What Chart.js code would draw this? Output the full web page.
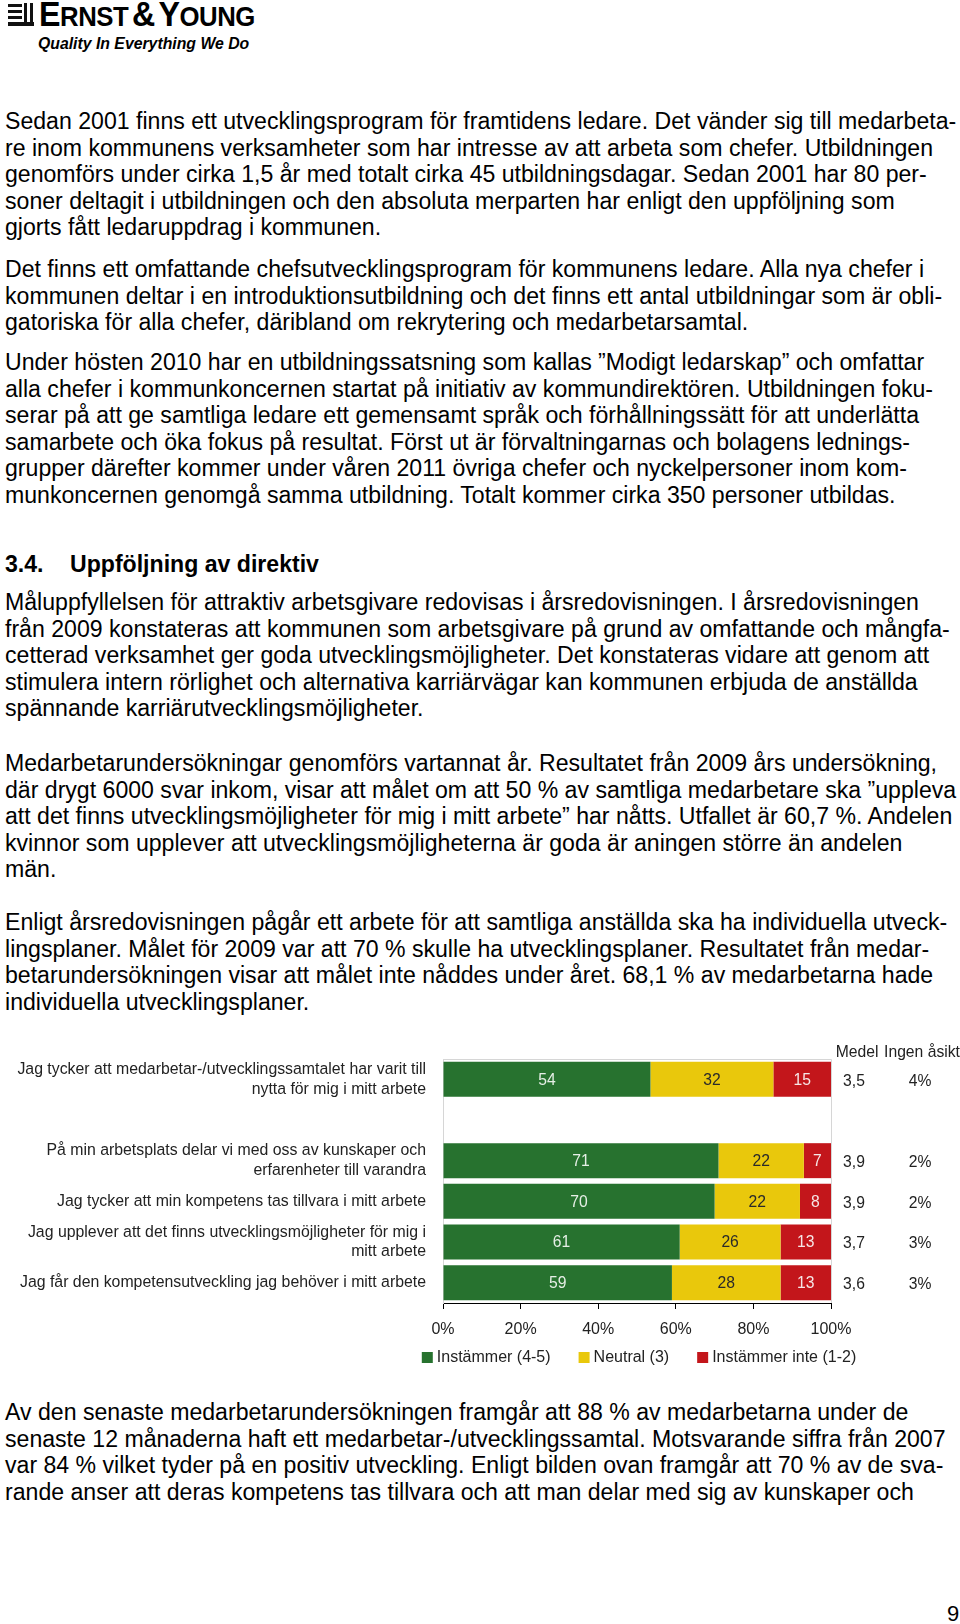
<!DOCTYPE html>
<html lang="sv">
<head>
<meta charset="utf-8">
<script src="https://cdn.jsdelivr.net/npm/chart.js@4.4.1/dist/chart.umd.min.js"></script>
<style>
    html, body { margin: 0; padding: 0; background: #fff; }
    body { width: 960px; height: 1624px; position: relative; overflow: hidden;
           font-family: "Liberation Sans", Arial, sans-serif; color: #000; }
    .p { position: absolute; left: 5px; font-size: 23.1px; line-height: 26.6px; white-space: nowrap; }
    .logo-icon div { position: absolute; background: #111; }
    #brand { position: absolute; left: 39px; top: -4px; font-weight: bold; white-space: nowrap;
             letter-spacing: -0.5px; transform: scaleX(0.92); transform-origin: 0 0; line-height: 36px; }
    #brand .big { font-size: 35px; }
    #brand .sm { font-size: 28px; }
    #tagline { position: absolute; left: 38px; top: 35px; font-weight: bold; font-style: italic; font-size: 15.8px; }
    #chartBox { position: absolute; left: 0; top: 1020px; width: 960px; height: 360px; }
    #pageNo { position: absolute; left: 947px; top: 1601px; font-size: 22px; }
</style>
</head>
<body>
<div class="logo-icon">
    <div style="left:8px;top:4px;width:14px;height:3px"></div>
    <div style="left:8px;top:10px;width:14px;height:3px"></div>
    <div style="left:8px;top:16px;width:14px;height:3px"></div>
    <div style="left:8px;top:22px;width:26px;height:4px"></div>
    <div style="left:24px;top:3px;width:3px;height:23px"></div>
    <div style="left:30px;top:3px;width:3px;height:23px"></div>
</div>
<div id="brand"><span class="big">E</span><span class="sm">RNST</span> <span class="big">&amp;</span> <span class="big">Y</span><span class="sm">OUNG</span></div>
<div id="tagline">Quality In Everything We Do</div>

<div class="p" style="top:108px">Sedan 2001 finns ett utvecklingsprogram för framtidens ledare. Det vänder sig till medarbeta-<br>re inom kommunens verksamheter som har intresse av att arbeta som chefer. Utbildningen<br>genomförs under cirka 1,5 år med totalt cirka 45 utbildningsdagar. Sedan 2001 har 80 per-<br>soner deltagit i utbildningen och den absoluta merparten har enligt den uppföljning som<br>gjorts fått ledaruppdrag i kommunen.</div>
<div class="p" style="top:256px">Det finns ett omfattande chefsutvecklingsprogram för kommunens ledare. Alla nya chefer i<br>kommunen deltar i en introduktionsutbildning och det finns ett antal utbildningar som är obli-<br>gatoriska för alla chefer, däribland om rekrytering och medarbetarsamtal.</div>
<div class="p" style="top:349px">Under hösten 2010 har en utbildningssatsning som kallas ”Modigt ledarskap” och omfattar<br>alla chefer i kommunkoncernen startat på initiativ av kommundirektören. Utbildningen foku-<br>serar på att ge samtliga ledare ett gemensamt språk och förhållningssätt för att underlätta<br>samarbete och öka fokus på resultat. Först ut är förvaltningarnas och bolagens lednings-<br>grupper därefter kommer under våren 2011 övriga chefer och nyckelpersoner inom kom-<br>munkoncernen genomgå samma utbildning. Totalt kommer cirka 350 personer utbildas.</div>
<div class="p" style="top:551px;font-weight:bold">3.4.</div>
<div class="p" style="top:551px;left:70px;font-weight:bold">Uppföljning av direktiv</div>
<div class="p" style="top:589px">Måluppfyllelsen för attraktiv arbetsgivare redovisas i årsredovisningen. I årsredovisningen<br>från 2009 konstateras att kommunen som arbetsgivare på grund av omfattande och mångfa-<br>cetterad verksamhet ger goda utvecklingsmöjligheter. Det konstateras vidare att genom att<br>stimulera intern rörlighet och alternativa karriärvägar kan kommunen erbjuda de anställda<br>spännande karriärutvecklingsmöjligheter.</div>
<div class="p" style="top:750px">Medarbetarundersökningar genomförs vartannat år. Resultatet från 2009 års undersökning,<br>där drygt 6000 svar inkom, visar att målet om att 50 % av samtliga medarbetare ska ”uppleva<br>att det finns utvecklingsmöjligheter för mig i mitt arbete” har nåtts. Utfallet är 60,7 %. Andelen<br>kvinnor som upplever att utvecklingsmöjligheterna är goda är aningen större än andelen<br>män.</div>
<div class="p" style="top:909px">Enligt årsredovisningen pågår ett arbete för att samtliga anställda ska ha individuella utveck-<br>lingsplaner. Målet för 2009 var att 70 % skulle ha utvecklingsplaner. Resultatet från medar-<br>betarundersökningen visar att målet inte nåddes under året. 68,1 % av medarbetarna hade<br>individuella utvecklingsplaner.</div>

<div id="chartBox"><canvas id="surveyChart"></canvas></div>

<div class="p" style="top:1399px">Av den senaste medarbetarundersökningen framgår att 88 % av medarbetarna under de<br>senaste 12 månaderna haft ett medarbetar-/utvecklingssamtal. Motsvarande siffra från 2007<br>var 84 % vilket tyder på en positiv utveckling. Enligt bilden ovan framgår att 70 % av de sva-<br>rande anser att deras kompetens tas tillvara och att man delar med sig av kunskaper och</div>
<div id="pageNo">9</div>

<script>
// survey questions (empty slot between first and the rest)
const questions = [
    ['Jag tycker att medarbetar-/utvecklingssamtalet har varit till', 'nytta för mig i mitt arbete'],
    '',
    ['På min arbetsplats delar vi med oss av kunskaper och', 'erfarenheter till varandra'],
    'Jag tycker att min kompetens tas tillvara i mitt arbete',
    ['Jag upplever att det finns utvecklingsmöjligheter för mig i', 'mitt arbete'],
    'Jag får den kompetensutveckling jag behöver i mitt arbete'
];
const agree    = [54, null, 71, 70, 61, 59];
const neutral  = [32, null, 22, 22, 26, 28];
const disagree = [15, null, 7, 8, 13, 13];
const medel     = ['3,5', '', '3,9', '3,9', '3,7', '3,6'];
const noOpinion = ['4%', '', '2%', '2%', '3%', '3%'];
const seriesNames = ['Instämmer (4-5)', 'Neutral (3)', 'Instämmer inte (1-2)'];
const seriesColors = ['#27722f', '#e9c80c', '#c3161b'];
const labelColors = ['#e6efe6', '#2a2a2a', '#f6e6e6'];
const xTicks = [0, 20, 40, 60, 80, 100];

const FONT = "'Liberation Sans', Arial, sans-serif";
const raw = [agree, neutral, disagree];

// 100% stacked: share of each row total
function share(arr) {
    return arr.map((v, i) => v == null ? null : v * 100 / (agree[i] + neutral[i] + disagree[i]));
}

const extras = {
    id: 'extras',
    beforeDatasetsDraw(chart) {
        const { ctx, chartArea: a } = chart;
        ctx.save();
        ctx.strokeStyle = '#d6d6d6';
        ctx.lineWidth = 1;
        ctx.beginPath();
        ctx.moveTo(a.left, a.top + 0.5);
        ctx.lineTo(a.right + 0.5, a.top + 0.5);
        ctx.lineTo(a.right + 0.5, a.bottom);
        ctx.stroke();
        ctx.restore();
    },
    afterDatasetsDraw(chart) {
        const { ctx, chartArea: a } = chart;
        const y = chart.scales.y;
        ctx.save();
        ctx.font = '15.7px ' + FONT;
        ctx.textAlign = 'center';
        ctx.textBaseline = 'middle';
        raw.forEach((arr, d) => {
            ctx.fillStyle = labelColors[d];
            chart.getDatasetMeta(d).data.forEach((bar, i) => {
                if (arr[i] == null) return;
                ctx.fillText(arr[i], (bar.x + bar.base) / 2, bar.y + 1);
            });
        });
        ctx.fillStyle = '#222';
        ctx.fillText('Medel', a.right + 26, a.top - 6);
        ctx.fillText('Ingen åsikt', a.right + 91, a.top - 6);
        medel.forEach((m, i) => {
            const py = y.getPixelForValue(i) + 2;
            ctx.fillText(m, a.right + 23, py);
            ctx.fillText(noOpinion[i], a.right + 89, py);
        });

        // legend row under the axis
        ctx.font = '16px ' + FONT;
        const items = chart.data.datasets.map(ds => ({ text: ds.label, color: ds.backgroundColor, w: ctx.measureText(ds.label).width }));
        const box = 11, gap = 4, spacing = 28;
        const total = items.reduce((s, it) => s + box + gap + it.w, 0) + spacing * (items.length - 1);
        let lx = (a.left + a.right) / 2 + 2 - total / 2;
        const ly = a.bottom + 54;
        ctx.textAlign = 'left';
        items.forEach(it => {
            ctx.fillStyle = it.color;
            ctx.fillRect(lx, ly - 5, box, box);
            ctx.fillStyle = '#222';
            ctx.fillText(it.text, lx + box + gap, ly + 1);
            lx += box + gap + it.w + spacing;
        });
        ctx.restore();
    }
};

new Chart(document.getElementById('surveyChart'), {
    type: 'bar',
    data: {
        labels: questions,
        datasets: raw.map((arr, d) => ({
            label: seriesNames[d],
            data: share(arr),
            backgroundColor: seriesColors[d],
            borderWidth: 0,
            barPercentage: 0.86,
            categoryPercentage: 1
        }))
    },
    options: {
        indexAxis: 'y',
        responsive: true,
        maintainAspectRatio: false,
        animation: false,
        layout: { padding: { top: 39, right: 129, left: 0, bottom: 37 } },
        scales: {
            x: {
                stacked: true, min: 0, max: 100,
                afterBuildTicks: s => { s.ticks = xTicks.map(v => ({ value: v })); },
                afterFit: s => { s.height = 40; },
                grid: { drawOnChartArea: false, drawTicks: true, tickLength: 6, color: '#000' },
                border: { color: '#000' },
                ticks: { color: '#222', font: { family: FONT, size: 16 }, padding: 11, callback: v => v + '%' }
            },
            y: {
                stacked: true,
                afterFit: s => { s.width = 443; },
                grid: { display: false },
                border: { color: '#d6d6d6' },
                ticks: { color: '#222', font: { family: FONT, size: 15.85, lineHeight: 1.24 }, padding: 9, autoSkip: false }
            }
        },
        plugins: {
            legend: { display: false },
            tooltip: { enabled: false }
        }
    },
    plugins: [extras]
});
</script>
</body>
</html>
